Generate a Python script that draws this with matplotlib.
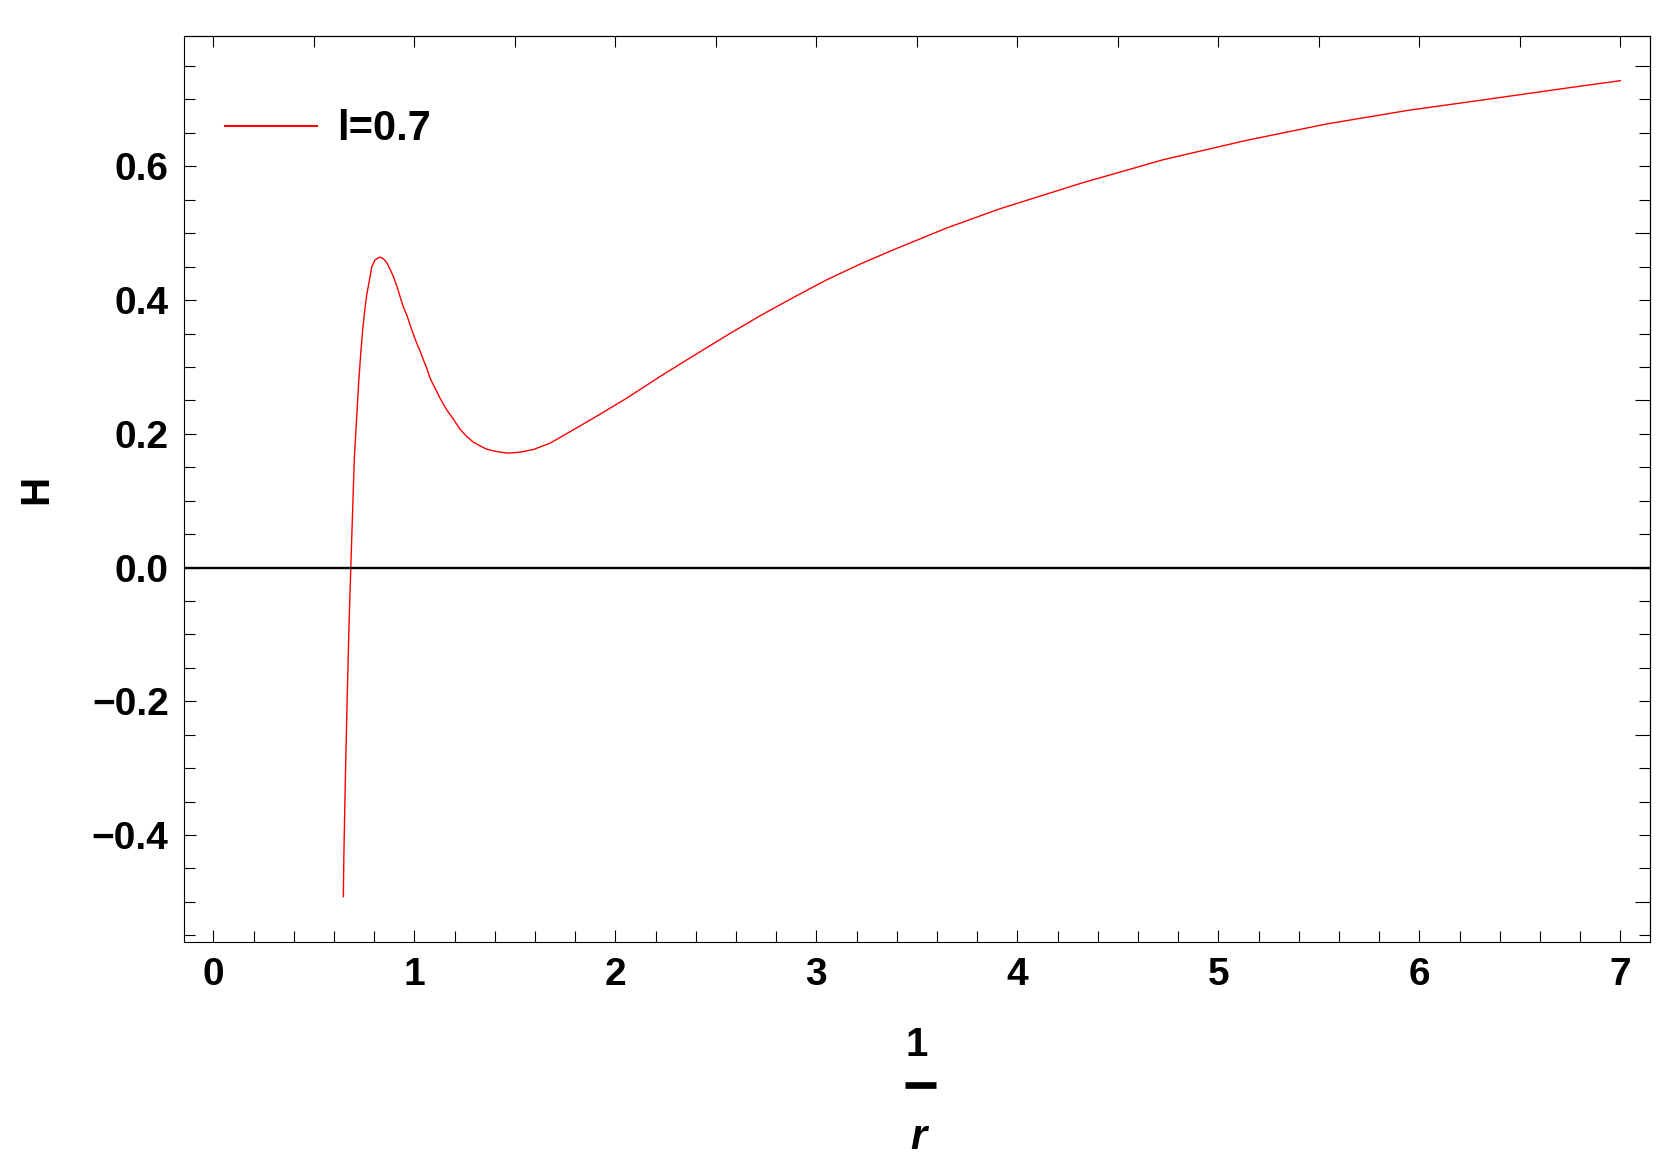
import matplotlib.pyplot as plt
from matplotlib.ticker import MultipleLocator
from matplotlib.lines import Line2D

plt.rcParams['font.family'] = ['Liberation Sans', 'DejaVu Sans']

# curve H against 1/r
inv_r = [0.6469, 0.6494, 0.6544, 0.6593, 0.6643, 0.6693, 0.6742, 0.6792, 0.6842, 0.6892,
         0.6917, 0.7016, 0.7132, 0.7232, 0.7331, 0.7431, 0.7530, 0.7630, 0.7746, 0.7878,
         0.8044, 0.8293, 0.8459, 0.8625, 0.8791, 0.8956, 0.9122, 0.9288, 0.9454, 0.9620,
         0.9786, 0.9951, 1.0117, 1.0283, 1.0449, 1.0615, 1.0781, 1.0946, 1.1278, 1.1610,
         1.1941, 1.2273, 1.2605, 1.2937, 1.3268, 1.3600, 1.3932, 1.4263, 1.4678, 1.5258,
         1.5922, 1.6751, 1.7249, 1.8907, 2.0566, 2.2224, 2.3882, 2.5541, 2.7199, 2.8858,
         3.0516, 3.2174, 3.3833, 3.65, 3.9139, 4.3197, 4.7254, 5.1312, 5.5370, 5.9427,
         6.3485, 6.7542, 7.0]
H = [-0.4921, -0.4322, -0.3539, -0.2826, -0.2168, -0.1555, -0.0971, -0.0443, 0.0016, 0.0500,
     0.0728, 0.1636, 0.2249, 0.2773, 0.3192, 0.3556, 0.3840, 0.4079, 0.4264, 0.4493,
     0.4603, 0.4643, 0.4618, 0.4563, 0.4463, 0.4353, 0.4219, 0.4054, 0.3895, 0.3780,
     0.3630, 0.3491, 0.3356, 0.3241, 0.3107, 0.2982, 0.2833, 0.2733, 0.2533, 0.2359,
     0.2219, 0.2070, 0.1960, 0.1875, 0.1820, 0.1770, 0.1745, 0.1726, 0.1711, 0.1726,
     0.1765, 0.1860, 0.1945, 0.2234, 0.2533, 0.2857, 0.3166, 0.3471, 0.3765, 0.4039,
     0.4303, 0.4538, 0.4752, 0.5080, 0.5366, 0.5750, 0.6099, 0.6383, 0.6633, 0.6837,
     0.7007, 0.7180, 0.7281]
series_label = 'l=0.7'

fig = plt.figure(figsize=(16.76, 11.68), dpi=100)
ax = fig.add_axes([0.1098, 0.1935, 0.8747, 0.7757])

ax.plot(inv_r, H, color='red', lw=1.0, label=series_label)
ax.axhline(0, color='black', lw=1.7)

ax.set_xlim(-0.1458, 7.1478)
ax.set_ylim(-0.56, 0.795)

# bottom / left ticks with labels
ax.xaxis.set_major_locator(MultipleLocator(1))
ax.xaxis.set_minor_locator(MultipleLocator(0.2))
ax.yaxis.set_major_locator(MultipleLocator(0.2))
ax.yaxis.set_minor_locator(MultipleLocator(0.05))
ax.tick_params(which='both', direction='in', width=0.8, top=False, right=False,
               labelsize=28, pad=11)
ax.tick_params(which='major', length=8.6)
ax.tick_params(which='minor', length=7.9)
ax.set_yticks([-0.4, -0.2, 0.0, 0.2, 0.4, 0.6])
ax.set_yticklabels(['\u22120.4', '\u22120.2', '0.0', '0.2', '0.4', '0.6'])
for lab in ax.get_xticklabels() + ax.get_yticklabels():
    lab.set_fontweight('bold')

# top / right frame ticks, no labels
top = ax.secondary_xaxis('top')
top.xaxis.set_major_locator(MultipleLocator(0.5))
top.tick_params(direction='in', length=8.0, width=0.8, labeltop=False)
right = ax.secondary_yaxis('right')
right.yaxis.set_major_locator(MultipleLocator(0.25))
right.yaxis.set_minor_locator(MultipleLocator(0.05))
right.tick_params(which='major', direction='in', length=11, width=0.8, labelright=False)
right.tick_params(which='minor', direction='in', length=7.9, width=0.8)

for sp in ax.spines.values():
    sp.set_linewidth(0.8)

leg = ax.legend(loc='center left', bbox_to_anchor=(0.028, 0.897), frameon=False,
                borderpad=0, borderaxespad=0, handlelength=2.2, handletextpad=0.5,
                prop={'size': 30, 'weight': 'bold'})
leg.legend_handles[0].set_linewidth(1.5)

# axis labels
fig.text(36 / 1676, 1 - 489 / 1168, 'H', rotation=90, ha='center', va='center',
         fontsize=29, fontweight='bold')
fig.text(917 / 1676, 1 - 1045 / 1168, '1', ha='center', va='center',
         fontsize=29, fontweight='bold')
fig.add_artist(Line2D([905 / 1676, 936 / 1676], [1 - 1085 / 1168, 1 - 1085 / 1168],
                      color='black', lw=4.8, solid_capstyle='butt'))
fig.text(918 / 1676, 1 - 1138 / 1168, 'r', ha='center', va='center',
         fontsize=30, fontweight='bold', fontstyle='italic')

fig.savefig('out.png', dpi=100)
